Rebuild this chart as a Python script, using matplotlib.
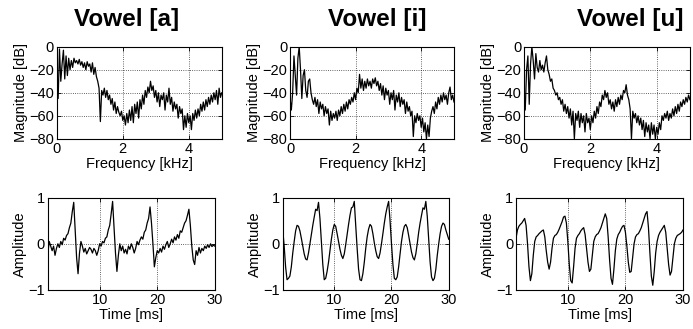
import numpy as np
import matplotlib.pyplot as plt

plt.rcParams['font.family'] = ['Liberation Sans', 'DejaVu Sans']
plt.rcParams['axes.unicode_minus'] = True

# magnitude spectra [dB], sampled uniformly from 0 to 5 kHz
spec_a = [-38, -45, -2, -30, -15, -3, -28, -8, -25, -10, -20, -12, -18, -10, -14, -12,
          -15, -11, -16, -13, -18, -14, -20, -13, -17, -15, -22, -14, -24, -18, -26, -30,
          -36, -65, -38, -42, -36, -44, -38, -46, -42, -50, -45, -55, -48, -58, -52, -57,
          -60, -56, -64, -60, -68, -58, -66, -55, -64, -52, -66, -50, -58, -48, -62, -46,
          -54, -42, -50, -38, -44, -35, -40, -30, -38, -34, -44, -38, -48, -40, -52, -42,
          -46, -40, -55, -42, -48, -36, -50, -44, -56, -48, -54, -50, -62, -52, -58, -54,
          -72, -60, -70, -58, -66, -60, -72, -58, -64, -55, -62, -54, -60, -50, -56, -48,
          -55, -46, -52, -44, -50, -42, -48, -40, -46, -38, -50, -36, -44, -40]
spec_i = [-45, -55, -40, -8, -25, -42, -10, 0, -20, -45, -25, -20, -38, -44, -30, -28,
          -40, -46, -50, -44, -52, -46, -58, -48, -54, -50, -60, -52, -58, -54, -68, -56,
          -64, -58, -62, -56, -64, -55, -60, -52, -58, -50, -56, -48, -54, -46, -50, -44,
          -48, -40, -46, -36, -40, -24, -36, -28, -38, -30, -36, -28, -34, -30, -36, -28,
          -32, -27, -34, -30, -38, -32, -42, -34, -46, -36, -42, -38, -50, -40, -46, -38,
          -55, -42, -48, -40, -52, -44, -50, -46, -58, -48, -56, -52, -60, -56, -78, -60,
          -66, -58, -64, -60, -70, -62, -74, -66, -80, -68, -78, -62, -56, -52, -58, -48,
          -54, -44, -50, -42, -48, -40, -46, -42, -50, -40, -35, -46, -42, -48]
spec_u = [-40, -55, -20, -8, -50, -15, 0, -12, -28, -6, -18, -22, -12, -20, -16, -22,
          -14, -8, -20, -24, -30, -28, -36, -38, -42, -40, -46, -44, -50, -46, -56, -50,
          -58, -52, -62, -54, -68, -56, -80, -58, -64, -56, -70, -58, -66, -60, -74, -58,
          -66, -62, -72, -60, -66, -56, -62, -52, -58, -48, -52, -42, -46, -38, -44, -40,
          -50, -46, -54, -48, -56, -46, -52, -44, -50, -42, -46, -38, -40, -33, -42, -46,
          -54, -80, -56, -62, -58, -66, -60, -68, -62, -72, -64, -78, -66, -74, -68, -80,
          -66, -76, -68, -80, -70, -76, -66, -72, -60, -64, -58, -62, -56, -64, -58, -62,
          -54, -60, -52, -58, -50, -56, -48, -52, -46, -50, -44, -48, -42, -46]

# waveforms, sampled uniformly from 1 to 30 ms
wave_a = [-0.20, 0.05, -0.05, -0.15, -0.05, -0.25, -0.10, 0.00, -0.08, 0.05, -0.02, 0.12,
          0.08, 0.18, 0.22, 0.35, 0.45, 0.70, 0.90, 0.30, -0.30, -0.65, -0.20, 0.05,
          -0.05, -0.18, -0.10, -0.22, -0.15, -0.08, -0.12, -0.20, -0.10, -0.15, -0.25, -0.15,
          0.00, -0.05, 0.05, 0.02, 0.12, 0.15, 0.30, 0.40, 0.65, 0.92, 0.35, -0.20,
          -0.60, -0.25, 0.00, -0.15, -0.05, -0.20, -0.12, -0.22, -0.05, -0.12, 0.00, -0.08,
          -0.20, -0.10, 0.05, -0.02, 0.08, 0.15, 0.10, 0.25, 0.30, 0.45, 0.55, 0.80,
          0.45, 0.00, -0.50, -0.30, -0.15, -0.20, -0.10, -0.18, -0.05, -0.12, -0.02, 0.05,
          -0.08, 0.00, 0.10, 0.02, 0.15, 0.08, 0.20, 0.12, 0.28, 0.25, 0.35, 0.45,
          0.50, 0.62, 0.75, 0.40, -0.05, -0.35, -0.45, -0.15, -0.25, -0.08, -0.20, -0.10,
          -0.15, -0.05, -0.10, -0.02, -0.08, 0.00, -0.06, -0.03, -0.05]
wave_i = [0.30, -0.05, -0.50, -0.78, -0.75, -0.70, -0.50, -0.20, 0.05, 0.28, 0.40, 0.38,
          0.28, 0.12, -0.05, -0.22, -0.33, -0.35, -0.20, 0.00, 0.20, 0.40, 0.58, 0.75,
          0.72, 0.90, 0.55, 0.05, -0.45, -0.78, -0.75, -0.60, -0.40, -0.15, 0.10, 0.30,
          0.42, 0.38, 0.22, 0.05, -0.12, -0.25, -0.32, -0.22, -0.02, 0.20, 0.42, 0.62,
          0.78, 0.80, 0.92, 0.40, -0.10, -0.55, -0.78, -0.80, -0.65, -0.40, -0.10, 0.15,
          0.32, 0.42, 0.38, 0.22, 0.02, -0.15, -0.28, -0.32, -0.20, 0.00, 0.22, 0.45,
          0.65, 0.80, 0.92, 0.50, 0.00, -0.45, -0.75, -0.78, -0.72, -0.50, -0.22, 0.05,
          0.25, 0.38, 0.42, 0.35, 0.18, 0.00, -0.18, -0.30, -0.35, -0.22, 0.00, 0.25,
          0.45, 0.62, 0.78, 0.75, 0.92, 0.60, 0.10, -0.40, -0.72, -0.80, -0.75, -0.55,
          -0.25, 0.00, 0.22, 0.38, 0.45, 0.42, 0.30, 0.20, 0.10]
wave_u = [0.12, 0.30, 0.38, 0.42, 0.45, 0.50, 0.55, 0.40, 0.00, -0.50, -0.80, -0.65,
          -0.25, 0.05, 0.15, 0.18, 0.22, 0.25, 0.28, 0.30, 0.15, -0.15, -0.40, -0.55,
          -0.40, -0.10, 0.12, 0.18, 0.20, 0.25, 0.32, 0.40, 0.48, 0.58, 0.60, 0.45,
          0.05, -0.45, -0.80, -0.85, -0.50, -0.10, 0.12, 0.18, 0.22, 0.28, 0.32, 0.35,
          0.20, -0.10, -0.40, -0.60, -0.55, -0.25, 0.05, 0.15, 0.20, 0.22, 0.28, 0.35,
          0.45, 0.55, 0.65, 0.55, 0.15, -0.35, -0.75, -0.88, -0.55, -0.15, 0.10, 0.20,
          0.25, 0.32, 0.38, 0.40, 0.25, -0.05, -0.40, -0.62, -0.60, -0.30, 0.00, 0.15,
          0.20, 0.22, 0.28, 0.35, 0.45, 0.55, 0.65, 0.70, 0.35, -0.20, -0.70, -0.90,
          -0.60, -0.20, 0.05, 0.18, 0.25, 0.30, 0.35, 0.40, 0.25, -0.10, -0.45, -0.68,
          -0.60, -0.30, 0.00, 0.12, 0.18, 0.20, 0.22, 0.25, 0.30]

titles = ['Vowel [a]', 'Vowel [i]', 'Vowel [u]']
spectra = [spec_a, spec_i, spec_u]
waves = [wave_a, wave_i, wave_u]

fig = plt.figure(figsize=(6.93, 3.29), dpi=100)

# axes boxes in figure fractions (left, bottom, width, height)
top_boxes = [(0.082, 0.578, 0.238, 0.280),
             (0.4185, 0.578, 0.2366, 0.280),
             (0.756, 0.578, 0.2395, 0.280)]
bot_boxes = [(0.069, 0.119, 0.241, 0.280),
             (0.408, 0.119, 0.2395, 0.280),
             (0.7446, 0.119, 0.241, 0.280)]
title_x = [0.183, 0.545, 0.910]


def style_axes(ax):
    ax.tick_params(direction='in', length=3, width=0.6, labelsize=10.5,
                   top=True, right=True, pad=2)
    for s in ax.spines.values():
        s.set_linewidth(0.8)
    ax.grid(True, color='black', linestyle=':', linewidth=0.6, alpha=0.8)


for k in range(3):
    ax = fig.add_axes(top_boxes[k])
    f = np.linspace(0, 5, len(spectra[k]))
    ax.plot(f, spectra[k], color='black', linewidth=0.9)
    ax.set_xlim(0, 5)
    ax.set_ylim(-80, 0)
    ax.set_xticks([0, 2, 4])
    ax.set_yticks([-80, -60, -40, -20, 0])
    ax.set_xlabel('Frequency [kHz]', fontsize=10.5, labelpad=1)
    ax.set_ylabel('Magnitude [dB]', fontsize=10.5, labelpad=1)
    style_axes(ax)

    ax2 = fig.add_axes(bot_boxes[k])
    t = np.linspace(1, 30, len(waves[k]))
    ax2.plot(t, waves[k], color='black', linewidth=0.9)
    ax2.set_xlim(1, 30)
    ax2.set_ylim(-1, 1)
    ax2.set_xticks([10, 20, 30])
    ax2.set_yticks([-1, 0, 1])
    ax2.set_xlabel('Time [ms]', fontsize=10.5, labelpad=1)
    ax2.set_ylabel('Amplitude', fontsize=10.5, labelpad=1)
    style_axes(ax2)

    fig.text(title_x[k], 0.94, titles[k], ha='center', va='center',
             fontsize=17.5, fontweight='bold')

fig.savefig('out.png', dpi=100)
